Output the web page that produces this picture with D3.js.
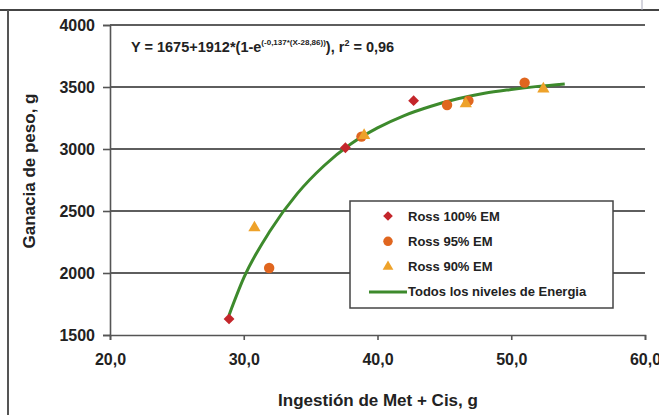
<!DOCTYPE html>
<html>
<head>
	<meta charset="utf-8">
	<title>ganancia-de-peso</title>
	<script src="https://d3js.org/d3.v7.min.js"></script>
	<style>
		body { margin: 0; background: #fff; }
		text { font-family: "Liberation Sans", Arial, sans-serif; font-weight: bold; fill: #222; }
	</style>
</head>
<body>
	<svg width="659" height="415"></svg>
	<script type="text/javascript">
		// points
		var ross100 = [ { x: 28.9, y: 1630 }, { x: 37.6, y: 3010 }, { x: 42.7, y: 3390 } ];
		var ross95 = [ { x: 31.9, y: 2040 }, { x: 38.8, y: 3100 }, { x: 45.2, y: 3355 }, { x: 46.8, y: 3390 }, { x: 51.0, y: 3535 } ];
		var ross90 = [ { x: 30.8, y: 2365 }, { x: 39.0, y: 3110 }, { x: 46.6, y: 3365 }, { x: 52.4, y: 3485 } ];
		// fitted line, read at a few x positions
		var ajuste = [
			{ x: 28.9, y: 1660 }, { x: 30, y: 1960 }, { x: 32, y: 2345 }, { x: 34, y: 2640 },
			{ x: 36, y: 2865 }, { x: 38, y: 3040 }, { x: 40, y: 3170 }, { x: 42, y: 3270 },
			{ x: 44, y: 3345 }, { x: 46, y: 3405 }, { x: 48, y: 3450 }, { x: 50, y: 3480 },
			{ x: 52, y: 3505 }, { x: 54, y: 3525 }
		];
		var xTicks = [20, 30, 40, 50, 60];
		var yTicks = [1500, 2000, 2500, 3000, 3500, 4000];
		var legendLabels = ['Ross 100% EM', 'Ross 95% EM', 'Ross 90% EM', 'Todos los niveles de Energia'];
		var colors = ['#c4262b', '#e0661f', '#eea22a', '#3d8a2c'];

		var svg = d3.select('svg');
		var x = d3.scaleLinear().domain([20, 60]).range([110, 645]);
		var y = d3.scaleLinear().domain([1500, 4000]).range([335, 25]);

		// outer frame (top and left)
		svg.append('line').attr('x1', 0).attr('x2', 659).attr('y1', 10).attr('y2', 10)
			.attr('stroke', '#444').attr('stroke-width', 2);
		svg.append('line').attr('x1', 8).attr('x2', 8).attr('y1', 10).attr('y2', 415)
			.attr('stroke', '#555').attr('stroke-width', 2);
		svg.append('line').attr('x1', 642).attr('x2', 642).attr('y1', 0).attr('y2', 10)
			.attr('stroke', '#aab').attr('stroke-width', 1);

		// gridlines
		svg.append('g').selectAll('line')
			.data(yTicks.slice(1))
			.enter().append('line')
			.attr('x1', x(20)).attr('x2', x(60))
			.attr('y1', d => y(d)).attr('y2', d => y(d))
			.attr('stroke', '#5e5e5e').attr('stroke-width', 2);

		var yAxis = svg.append('g')
			.attr('transform', 'translate(' + x(20) + ',0)')
			.call(d3.axisLeft(y).tickValues(yTicks).tickSize(7).tickPadding(8).tickFormat(d3.format('d')));
		var xAxis = svg.append('g')
			.attr('transform', 'translate(0,' + y(1500) + ')')
			.call(d3.axisBottom(x).tickValues(xTicks).tickSize(5).tickPadding(14).tickFormat(d => d3.format('.1f')(d).replace('.', ',')));
		[yAxis, xAxis].forEach(function (a) {
			a.select('.domain').attr('stroke', '#555').attr('stroke-width', 1.6);
			a.selectAll('.tick line').attr('stroke', '#555').attr('stroke-width', 1.6);
			a.selectAll('text').style('font-size', '16px').attr('fill', '#222');
		});

		// fitted curve
		var line = d3.line().x(d => x(d.x)).y(d => y(d.y)).curve(d3.curveMonotoneX);
		svg.append('path').datum(ajuste)
			.attr('d', line)
			.attr('fill', 'none').attr('stroke', colors[3]).attr('stroke-width', 3);

		// points
		var sym = [d3.symbolDiamond2, d3.symbolCircle, d3.symbolTriangle];
		var sizes = [75, 85, 65];
		[ross100, ross95, ross90].forEach(function (serie, i) {
			svg.append('g').selectAll('path')
				.data(serie)
				.enter().append('path')
				.attr('transform', d => 'translate(' + x(d.x) + ',' + y(d.y) + ')')
				.attr('d', d3.symbol().type(sym[i]).size(sizes[i]))
				.attr('fill', colors[i]);
		});

		// legend
		var lg = svg.append('g');
		lg.append('rect').attr('x', 350).attr('y', 201).attr('width', 263).attr('height', 107)
			.attr('fill', '#fff').attr('stroke', '#444').attr('stroke-width', 1.5);
		var rows = lg.selectAll('.row')
			.data(legendLabels)
			.enter().append('g')
			.attr('transform', (d, i) => 'translate(0,' + (216 + i * 25.3) + ')');
		rows.filter((d, i) => i < 3).append('path')
			.attr('transform', 'translate(388,0)')
			.attr('d', (d, i) => d3.symbol().type(sym[i]).size(sizes[i] - 15)())
			.attr('fill', (d, i) => colors[i]);
		rows.filter((d, i) => i == 3).append('line')
			.attr('x1', 369).attr('x2', 407).attr('y1', 0).attr('y2', 0)
			.attr('stroke', colors[3]).attr('stroke-width', 3);
		rows.append('text')
			.attr('x', 408).attr('dy', '0.35em')
			.style('font-size', '13px')
			.text(d => d);

		// equation
		var eq = svg.append('text').attr('x', 131).attr('y', 52).style('font-size', '14.5px');
		eq.append('tspan').text('Y = 1675+1912*(1-e');
		eq.append('tspan').attr('dy', -7).style('font-size', '8px').text('(-0,137*(X-28,86))');
		eq.append('tspan').attr('dy', 7).text('),   r');
		eq.append('tspan').attr('dy', -6).style('font-size', '9px').text('2');
		eq.append('tspan').attr('dy', 6).text(' = 0,96');

		// axis titles
		svg.append('text')
			.attr('transform', 'translate(35,171) rotate(-90)')
			.attr('text-anchor', 'middle')
			.style('font-size', '17px')
			.text('Ganacia de peso, g');
		svg.append('text')
			.attr('x', 378).attr('y', 406)
			.attr('text-anchor', 'middle')
			.style('font-size', '17px')
			.text('Ingestión de Met + Cis, g');
	</script>
</body>
</html>
